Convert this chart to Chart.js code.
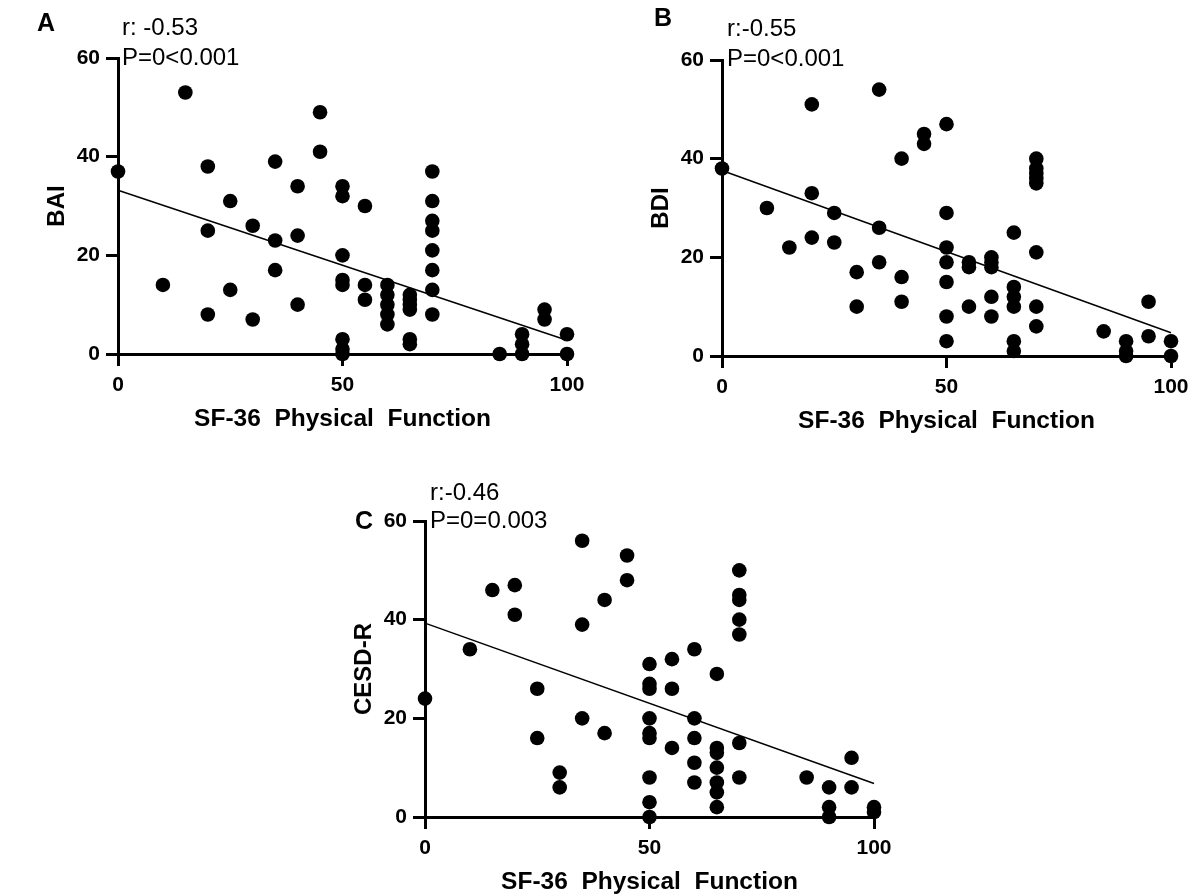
<!DOCTYPE html>
<html><head><meta charset="utf-8">
<script src="https://cdn.jsdelivr.net/npm/chart.js@4"></script>
<style>
html,body{margin:0;padding:0;background:#fff;width:1203px;height:896px;overflow:hidden;position:relative}
canvas{position:absolute}
</style></head><body>
<canvas id="cA" width="600" height="460" style="left:0;top:0"></canvas>
<canvas id="cB" width="599" height="460" style="left:604px;top:2px"></canvas>
<canvas id="cC" width="600" height="433" style="left:307px;top:463px"></canvas>
<script>
// ---- data ----
const xTicks = [0, 50, 100];
const yTicks = [0, 20, 40, 60];
const xTitle = 'SF-36  Physical  Function';

// Panel A: BAI vs SF-36 Physical Function
const xA = [0, 10, 15, 20, 20, 20, 25, 25, 30, 30, 35, 35, 35, 40, 40, 40, 45, 45,
            50, 50, 50, 50, 50, 50, 50, 50, 55, 55, 55, 60, 60, 60, 60, 60,
            65, 65, 65, 65, 65, 65, 70, 70, 70, 70, 70, 70, 70, 70,
            85, 90, 90, 90, 95, 95, 100, 100];
const yA = [37, 14, 53, 38, 25, 8, 31, 13, 26, 7, 39, 23, 17, 34, 24, 10, 49, 41,
            34, 32, 20, 15, 14, 3, 1, 0, 30, 14, 11, 14, 12, 10, 8, 6,
            12, 11, 10, 9, 3, 2, 37, 31, 27, 25, 21, 17, 13, 8,
            0, 4, 2, 0, 9, 7, 4, 0];
const fitA = [33.2, 2.8];

// Panel B: BDI vs SF-36 Physical Function
const xB = [0, 10, 15, 20, 20, 20, 25, 25, 30, 30, 35, 35, 35, 40, 40, 40, 45, 45,
            50, 50, 50, 50, 50, 50, 50, 55, 55, 55, 60, 60, 60, 60, 60,
            65, 65, 65, 65, 65, 65, 70, 70, 70, 70, 70, 70, 70, 70,
            85, 90, 90, 90, 95, 95, 100, 100];
const yB = [38, 30, 22, 51, 33, 24, 29, 23, 17, 10, 54, 26, 19, 40, 16, 11, 45, 43,
            47, 29, 22, 19, 15, 8, 3, 19, 18, 10, 20, 19, 18, 12, 8,
            25, 14, 12, 10, 3, 1, 40, 38, 37, 36, 35, 21, 10, 6,
            5, 3, 1, 0, 11, 4, 3, 0];
const fitB = [37.6, 4.7];

// Panel C: CESD-R vs SF-36 Physical Function
const xC = [0, 10, 15, 20, 20, 25, 25, 30, 30, 35, 35, 35, 40, 40, 45, 45,
            50, 50, 50, 50, 50, 50, 50, 50, 50, 55, 55, 55, 60, 60, 60, 60, 60,
            65, 65, 65, 65, 65, 65, 65, 70, 70, 70, 70, 70, 70, 70,
            85, 90, 90, 90, 95, 95, 100, 100];
const yC = [24, 34, 46, 47, 41, 26, 16, 9, 6, 56, 39, 20, 44, 17, 53, 48,
            31, 27, 26, 20, 17, 16, 8, 3, 0, 32, 26, 14, 34, 20, 16, 11, 7,
            29, 14, 13, 10, 7, 5, 2, 50, 45, 44, 40, 37, 15, 8,
            8, 6, 2, 0, 12, 6, 2, 1];
const fitC = [39.3, 6.8];
const fitX = [0, 100];

// ---- drawing ----
const FONT = '"Liberation Sans", Arial, sans-serif';
const TITLE_SIZE = 24.5;

const notesPlugin = {
  id: 'notes',
  afterDraw(chart, args, o) {
    const ctx = chart.ctx;
    ctx.save();
    ctx.fillStyle = '#000';
    ctx.textAlign = 'left';
    ctx.textBaseline = 'middle';
    ctx.font = 'bold 25px ' + FONT;
    ctx.fillText(o.letter, o.lx, o.ly);
    ctx.font = '24px ' + FONT;
    ctx.fillText(o.r, o.rx, o.ry);
    ctx.fillText(o.p, o.px, o.py);
    ctx.restore();
  }
};

function panel(id, xs, ys, fit, yTitle, notes) {
  const canvas = document.getElementById(id);
  const H = canvas.height;
  const pts = xs.map((x, i) => ({x: x, y: ys[i]}));
  const line = fitX.map((x, i) => ({x: x, y: fit[i]}));
  new Chart(canvas, {
    type: 'scatter',
    data: {
      datasets: [
        {type: 'line', data: line, borderColor: '#000', borderWidth: 1.5,
         pointRadius: 0, fill: false, clip: false, order: 2},
        {data: pts, pointRadius: 7.3, pointHoverRadius: 7.3,
         backgroundColor: '#000', borderWidth: 0, clip: false, order: 1}
      ]
    },
    options: {
      responsive: false,
      animation: false,
      devicePixelRatio: 1,
      events: [],
      layout: {padding: {left: 0, top: 58, right: canvas.width - 567, bottom: 0}},
      plugins: {legend: {display: false}, tooltip: {enabled: false}, notes: notes},
      scales: {
        x: {
          type: 'linear', min: 0, max: 100,
          afterBuildTicks: s => { s.ticks = xTicks.map(v => ({value: v})); },
          afterFit: s => { s.height = H - 354; },
          border: {display: true, color: '#000', width: 3},
          grid: {display: true, drawOnChartArea: false, drawTicks: true,
                 tickLength: 12, tickWidth: 3, tickColor: '#000', color: '#000', lineWidth: 3},
          ticks: {color: '#000', padding: 7, font: {family: FONT, size: 21, weight: 'bold'}},
          title: {display: true, text: xTitle, color: '#000',
                  font: {family: FONT, size: TITLE_SIZE, weight: 'bold'},
                  padding: {top: 0, bottom: (H - 419 - TITLE_SIZE * 0.6)}}
        },
        y: {
          type: 'linear', min: 0, max: 60,
          afterBuildTicks: s => { s.ticks = yTicks.map(v => ({value: v})); },
          afterFit: s => { s.width = 118; },
          border: {display: true, color: '#000', width: 3},
          grid: {display: true, drawOnChartArea: false, drawTicks: true,
                 tickLength: 12, tickWidth: 3, tickColor: '#000', color: '#000', lineWidth: 3},
          ticks: {color: '#000', padding: 6, font: {family: FONT, size: 21, weight: 'bold'}},
          title: {display: true, text: yTitle, color: '#000',
                  font: {family: FONT, size: 24, weight: 'bold'},
                  padding: {top: 43, bottom: 0}}
        }
      }
    },
    plugins: [notesPlugin]
  });
}

panel('cA', xA, yA, fitA, 'BAI',
  {letter: 'A', lx: 37, ly: 24, r: 'r: -0.53', rx: 122, ry: 28, p: 'P=0<0.001', px: 122, py: 58});
panel('cB', xB, yB, fitB, 'BDI',
  {letter: 'B', lx: 50, ly: 17, r: 'r:-0.55', rx: 123, ry: 27, p: 'P=0<0.001', px: 123, py: 57});
panel('cC', xC, yC, fitC, 'CESD-R',
  {letter: 'C', lx: 48, ly: 59, r: 'r:-0.46', rx: 123, ry: 30, p: 'P=0=0.003', px: 123, py: 58});
</script>
</body></html>
